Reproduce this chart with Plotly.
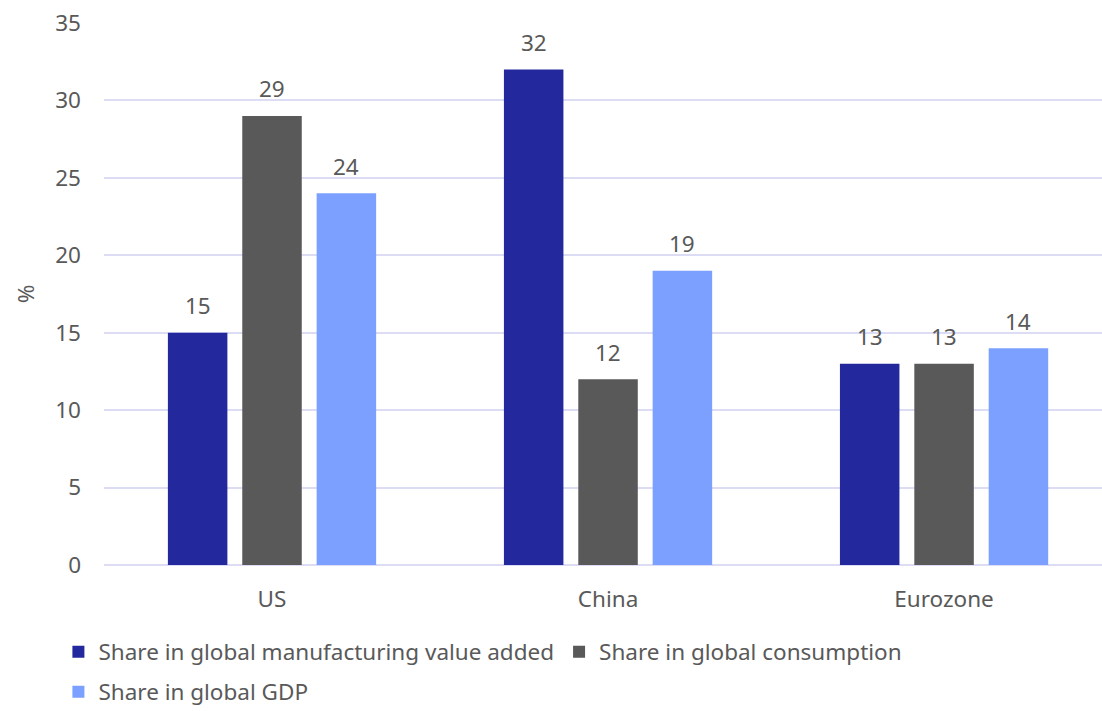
import plotly.graph_objects as go

# Regional shares (%)
regions = ["US", "China", "Eurozone"]
manufacturing = [15, 32, 13]
consumption = [29, 12, 13]
gdp = [24, 19, 14]

series_names = [
    "Share in global manufacturing value added",
    "Share in global consumption",
    "Share in global GDP",
]
series_values = [manufacturing, consumption, gdp]
series_colors = ["#23299d", "#595959", "#7ba0ff"]
series_legends = ["legend", "legend", "legend2"]

y_ticks = [0, 5, 10, 15, 20, 25, 30, 35]

FONT = "Noto Sans"
FS = 22.5
TEXT = "#595959"
GRID = "#dcdcf4"
BARGAP = 0.336
BARGROUPGAP = 0.2

fig = go.Figure()
for name, vals, color, lg in zip(series_names, series_values,
                                 series_colors, series_legends):
    fig.add_trace(go.Bar(
        x=regions,
        y=vals,
        name=name,
        marker=dict(color=color, line=dict(width=0)),
        legend=lg,
    ))

# Value labels above each bar, centred on the grouped bar slots
n_series = len(series_values)
slot = (1 - BARGAP) / n_series
for s, vals in enumerate(series_values):
    offset = (s - (n_series - 1) / 2) * slot
    for i, v in enumerate(vals):
        fig.add_annotation(
            x=i + offset, y=v, xref="x", yref="y",
            text=str(v), showarrow=False,
            yanchor="middle", yshift=27,
            font=dict(family=FONT, size=FS, color=TEXT),
        )

legend_style = dict(
    orientation="h",
    xref="container", yref="container",
    xanchor="left", yanchor="middle",
    font=dict(family=FONT, size=FS, color=TEXT),
    itemwidth=30,
    bgcolor="rgba(0,0,0,0)",
)

fig.update_layout(
    width=1102,
    height=711,
    margin=dict(l=104, r=0, t=23, b=146),
    paper_bgcolor="white",
    plot_bgcolor="white",
    font=dict(family=FONT, size=FS, color=TEXT),
    barmode="group",
    bargap=BARGAP,
    bargroupgap=BARGROUPGAP,
    showlegend=True,
    legend=dict(x=0.053, y=1 - 652 / 711, **legend_style),
    legend2=dict(x=0.053, y=1 - 692 / 711, **legend_style),
    xaxis=dict(
        type="category",
        range=[-0.5, 2.47],
        showgrid=False,
        showline=False,
        zeroline=False,
        ticks="",
        ticklabelstandoff=18,
        tickfont=dict(family=FONT, size=FS, color=TEXT),
    ),
    yaxis=dict(
        range=[0, 35],
        tickvals=y_ticks,
        showgrid=True,
        gridcolor=GRID,
        gridwidth=2,
        zeroline=True,
        zerolinecolor=GRID,
        zerolinewidth=2,
        showline=False,
        ticks="",
        ticklabelstandoff=22,
        tickfont=dict(family=FONT, size=FS, color=TEXT),
        title=dict(text="%", font=dict(family=FONT, size=FS, color=TEXT), standoff=14),
    ),
)

fig.write_html("out.html")
